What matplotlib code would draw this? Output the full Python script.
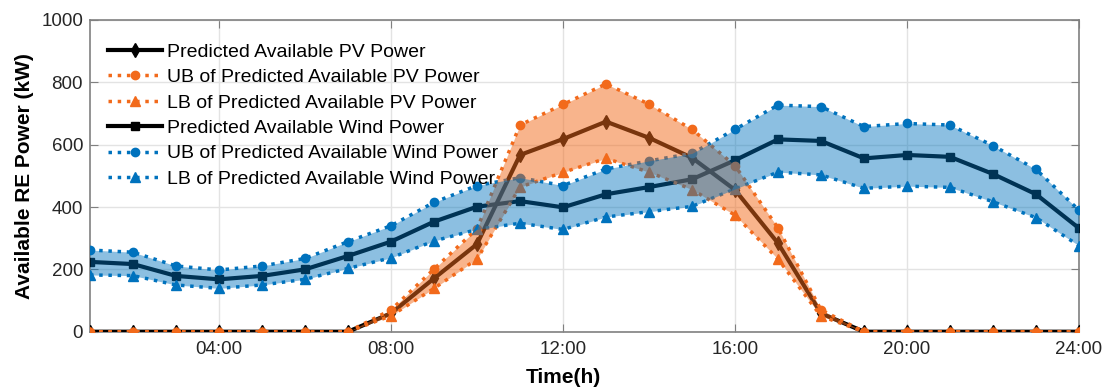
import matplotlib
matplotlib.use("Agg")
import matplotlib.pyplot as plt

plt.rcParams['font.family'] = ['Liberation Sans', 'DejaVu Sans']

# hourly forecast, hours 1..24
hours = list(range(1, 25))

pv = [0, 0, 0, 0, 0, 0, 0, 59, 171, 281, 567, 618, 674, 622, 558, 455, 284, 59, 0, 0, 0, 0, 0, 0]
pv_ub = [0, 0, 0, 0, 0, 0, 0, 70, 201, 330, 663, 729, 795, 730, 649, 533, 333, 70, 0, 0, 0, 0, 0, 0]
pv_lb = [0, 0, 0, 0, 0, 0, 0, 51, 139, 233, 464, 511, 556, 512, 456, 374, 233, 50, 0, 0, 0, 0, 0, 0]

wind = [224, 217, 179, 168, 179, 200, 243, 289, 353, 401, 419, 399, 441, 464, 489, 550, 617, 612, 556, 567, 561, 506, 441, 332]
wind_ub = [262, 255, 211, 198, 211, 235, 289, 340, 415, 469, 494, 469, 522, 548, 572, 649, 727, 722, 658, 668, 663, 597, 521, 390]
wind_lb = [182, 180, 150, 139, 150, 168, 203, 237, 291, 328, 348, 328, 368, 385, 402, 458, 512, 503, 460, 467, 463, 417, 366, 276]

xticks = [4, 8, 12, 16, 20, 24]
xticklabels = ['04:00', '08:00', '12:00', '16:00', '20:00', '24:00']

orange = '#F26A1B'
blue = '#0072BD'

fig = plt.figure(figsize=(11.07, 3.92), dpi=100)
ax = fig.add_axes([0.0813, 0.1538, 0.8934, 0.7952])

ax.plot(hours, pv, color='black', lw=3, marker='d', ms=7.5, label='Predicted Available PV Power', zorder=3)
ax.plot(hours, pv_ub, color=orange, lw=2.5, ls=':', marker='o', ms=6, label='UB of Predicted Available PV Power', zorder=4)
ax.plot(hours, pv_lb, color=orange, lw=2.5, ls=':', marker='^', ms=7, label='LB of Predicted Available PV Power', zorder=4)
ax.plot(hours, wind, color='black', lw=3, marker='s', ms=6, label='Predicted Available Wind Power', zorder=3)
ax.plot(hours, wind_ub, color=blue, lw=2.5, ls=':', marker='o', ms=6, label='UB of Predicted Available Wind Power', zorder=4)
ax.plot(hours, wind_lb, color=blue, lw=2.5, ls=':', marker='^', ms=7, label='LB of Predicted Available Wind Power', zorder=4)

ax.fill_between(hours, pv_lb, pv_ub, color=orange, alpha=0.5, lw=0, zorder=5)
ax.fill_between(hours, wind_lb, wind_ub, color=blue, alpha=0.45, lw=0, zorder=5)

ax.set_xlim(1, 24)
ax.set_ylim(0, 1000)
ax.set_xticks(xticks)
ax.set_xticklabels(xticklabels)
ax.set_yticks(range(0, 1001, 200))
ax.tick_params(direction='in', length=6, labelsize=13.5, colors='#808080',
               labelcolor='#262626', top=True, right=True)
ax.tick_params(axis='x', pad=7)
ax.tick_params(axis='y', pad=5)
ax.grid(True, color='#e3e3e3', lw=1)
ax.set_axisbelow(True)
for s in ax.spines.values():
    s.set_color('#808080')
    s.set_linewidth(1.2)

ax.set_xlabel('Time(h)', fontsize=15, fontweight='bold')
ax.xaxis.set_label_coords(11 / 23, -0.115)
ax.set_ylabel('Available RE Power (kW)', fontsize=15, fontweight='bold', labelpad=5)

ax.legend(loc='upper left', bbox_to_anchor=(0.006, 0.963), frameon=False, fontsize=14,
          handlelength=2.8, handletextpad=0.25, labelspacing=0.4, numpoints=1,
          borderaxespad=0.2)

fig.savefig('out.png', dpi=100)
